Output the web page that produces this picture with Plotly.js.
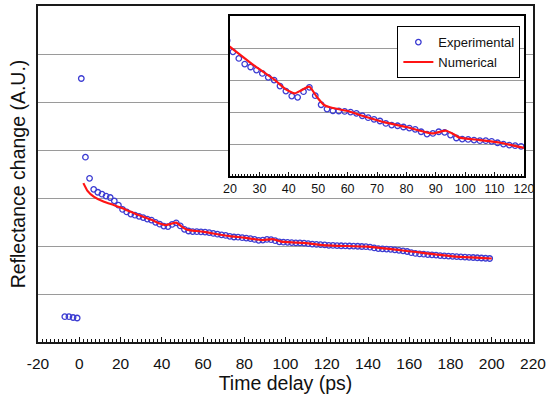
<!DOCTYPE html>
<html>
<head>
<meta charset="utf-8">
<script src="https://cdn.plot.ly/plotly-3.0.1.min.js"></script>
<style>
  html, body { margin: 0; padding: 0; background: #fff; }
  #chart { width: 551px; height: 400px; }
</style>
</head>
<body>
<div id="chart"></div>
<script>
// Experimental time-delay points (ps) and reflectance change (A.U.)
const expX = [-7, -5, -3, -1, 1, 3, 5, 7, 9, 11, 13, 15, 17, 19,
  21, 23, 25, 27, 29, 31, 33, 35, 37, 39, 41, 43, 45, 47, 49,
  51, 53, 55, 57, 59, 61, 63, 65, 67, 69, 71, 73, 75, 77, 79,
  81, 83, 85, 87, 89, 91, 93, 95, 97, 99, 101, 103, 105, 107, 109,
  111, 113, 115, 117, 119, 121, 123, 125, 127, 129, 131, 133, 135, 137, 139,
  141, 143, 145, 147, 149, 151, 153, 155, 157, 159, 161, 163, 165, 167, 169,
  171, 173, 175, 177, 179, 181, 183, 185, 187, 189, 191, 193, 195, 197, 199];
const expY = [0.527, 0.527, 0.51, 0.50, 5.49, 3.85, 3.41, 3.18, 3.12, 3.08, 3.04, 3.01, 2.94, 2.85,
  2.761, 2.709, 2.665, 2.642, 2.618, 2.592, 2.561, 2.540, 2.493, 2.454, 2.415, 2.405, 2.449, 2.483, 2.418,
  2.347, 2.313, 2.300, 2.298, 2.295, 2.290, 2.280, 2.261, 2.246, 2.233, 2.220, 2.201, 2.188, 2.183, 2.173,
  2.165, 2.155, 2.136, 2.118, 2.123, 2.136, 2.131, 2.110, 2.087, 2.079, 2.076, 2.071, 2.066, 2.066, 2.061,
  2.050, 2.040, 2.032, 2.027, 2.022, 2.015, 2.012, 2.008, 2.005, 2.003, 2.000, 1.998, 1.995, 1.990, 1.985,
  1.975, 1.960, 1.945, 1.940, 1.935, 1.930, 1.920, 1.910, 1.900, 1.885, 1.860, 1.845, 1.835, 1.830, 1.820,
  1.815, 1.810, 1.800, 1.795, 1.790, 1.785, 1.780, 1.775, 1.770, 1.765, 1.760, 1.755, 1.750, 1.745, 1.740];

// Numerical model curve
const numX = [2, 4, 7, 12, 17, 20, 28, 35, 39, 42, 44, 47, 49.5, 52, 54, 60, 65, 73, 80, 86, 89, 93.5, 96, 98, 105, 112, 120, 140, 160, 180, 200];
const numY = [3.31, 3.15, 3.03, 2.92, 2.85, 2.80, 2.657, 2.545, 2.467, 2.436, 2.457, 2.488, 2.41, 2.345, 2.327, 2.298, 2.261, 2.207, 2.173, 2.136, 2.123, 2.144, 2.118, 2.09, 2.071, 2.05, 2.011, 1.985, 1.89, 1.79, 1.74];

const mainTicks = [-20, 0, 20, 40, 60, 80, 100, 120, 140, 160, 180, 200, 220];
const insetTicks = [20, 30, 40, 50, 60, 70, 80, 90, 100, 110, 120];

const FONT = 'Liberation Sans, Arial, sans-serif';
const expMarker = {symbol: 'circle-open', size: 5.5, color: '#3c3cd2', line: {width: 1.3, color: '#3c3cd2'}};
const numLine = {color: '#ff1414', width: 2.2, shape: 'spline', smoothing: 0.5};

const traces = [
  {x: expX, y: expY, type: 'scatter', mode: 'markers', marker: expMarker, xaxis: 'x', yaxis: 'y', showlegend: false, name: 'Experimental'},
  {x: numX, y: numY, type: 'scatter', mode: 'lines', line: numLine, xaxis: 'x', yaxis: 'y', showlegend: false, name: 'Numerical'},
  {x: expX, y: expY, type: 'scatter', mode: 'markers', marker: expMarker, xaxis: 'x2', yaxis: 'y2', name: 'Experimental'},
  {x: numX, y: numY, type: 'scatter', mode: 'lines', line: numLine, xaxis: 'x2', yaxis: 'y2', name: 'Numerical'}
];

const layout = {
  width: 551, height: 400,
  margin: {l: 38, r: 18, t: 6, b: 58},
  paper_bgcolor: '#ffffff', plot_bgcolor: '#ffffff',
  font: {family: FONT, color: '#111'},
  showlegend: true,
  legend: {
    x: 0.726, y: 0.94, xanchor: 'left', yanchor: 'top',
    bgcolor: '#ffffff', bordercolor: '#000', borderwidth: 1,
    font: {family: FONT, size: 13, color: '#111'},
    tracegroupgap: 0
  },
  xaxis: {
    domain: [0, 1], range: [-20, 220], tickmode: 'array', tickvals: mainTicks,
    ticktext: mainTicks.map(String),
    ticks: 'inside', ticklen: 5, tickcolor: '#111', tickwidth: 1,
    minor: {dtick: 2, tick0: 0, ticks: 'inside', ticklen: 3, tickcolor: '#111', showgrid: false},
    showgrid: false, zeroline: false,
    showline: true, mirror: true, linecolor: '#1a1a1a', linewidth: 1.6,
    tickfont: {family: FONT, size: 15.5, color: '#111'},
    ticklabelstandoff: 7,
    title: {text: 'Time delay (ps)', font: {family: FONT, size: 19.5, color: '#111'}, standoff: 3}
  },
  yaxis: {
    domain: [0, 1], range: [0, 7], dtick: 1, tick0: 0,
    showticklabels: false, ticks: '',
    showgrid: true, gridcolor: '#9a9a9a', gridwidth: 1, zeroline: false,
    showline: true, mirror: true, linecolor: '#1a1a1a', linewidth: 1.6,
    title: {text: 'Reflectance change (A.U.)', font: {family: FONT, size: 19.5, color: '#111'}, standoff: 5}
  },
  xaxis2: {
    domain: [0.3879, 0.9818], anchor: 'y2', range: [20, 120], tickmode: 'array', tickvals: insetTicks,
    ticktext: insetTicks.map(String),
    ticks: 'inside', ticklen: 4, tickcolor: '#111',
    minor: {dtick: 1, tick0: 0, ticks: 'inside', ticklen: 2.5, tickcolor: '#111', showgrid: false},
    showgrid: false, zeroline: false,
    showline: true, mirror: true, linecolor: '#000', linewidth: 2.2,
    tickfont: {family: FONT, size: 12.5, color: '#111'},
    ticklabelstandoff: 0
  },
  yaxis2: {
    domain: [0.494, 0.970], anchor: 'x2', range: [1.79, 3.04], tick0: 1.79, dtick: 0.25,
    showticklabels: false, ticks: '',
    showgrid: true, gridcolor: '#9a9a9a', gridwidth: 1, zeroline: false,
    showline: true, mirror: true, linecolor: '#000', linewidth: 2.2
  }
};

Plotly.newPlot('chart', traces, layout, {staticPlot: true, displayModeBar: false});
</script>
</body>
</html>
